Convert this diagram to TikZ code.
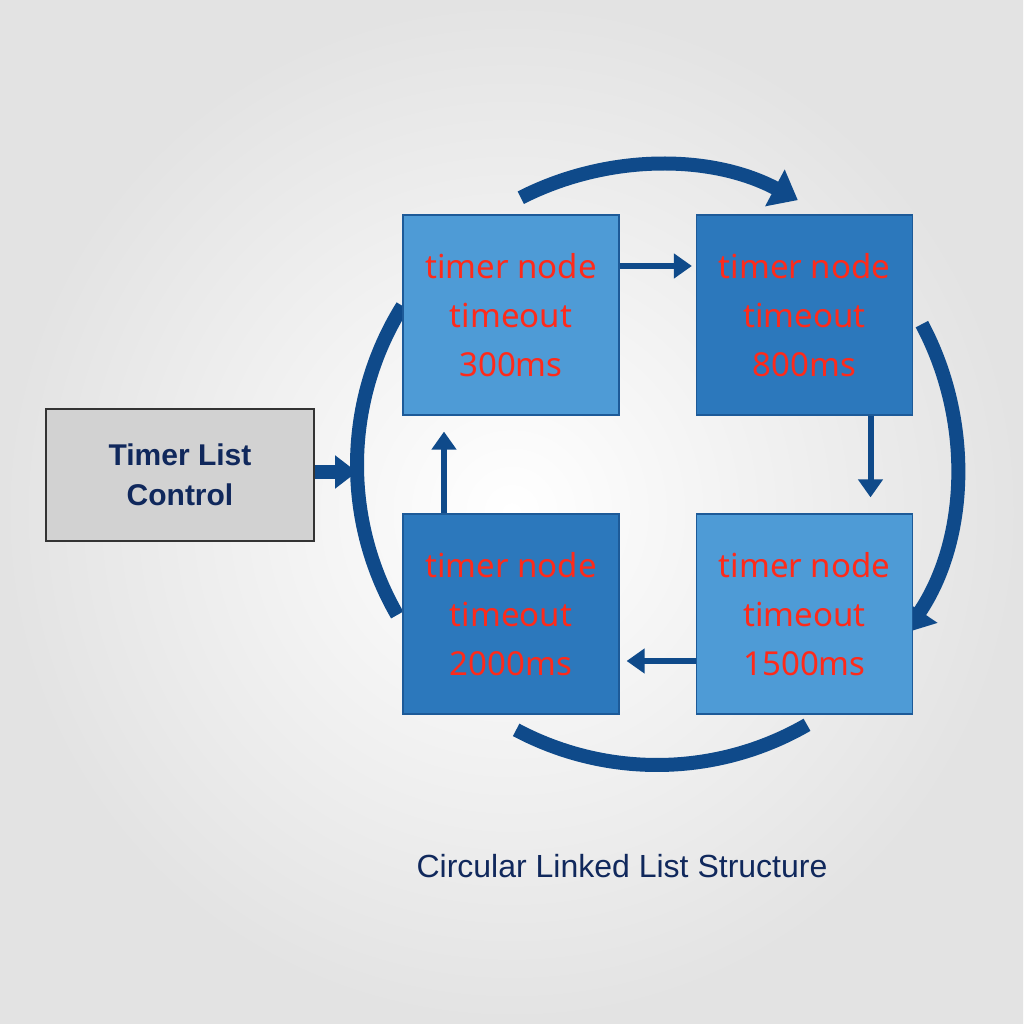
\documentclass[tikz,border=0pt]{standalone}
\usepackage{fontspec}
\setmainfont{Noto Sans}
\newfontfamily\lib{Liberation Sans}
\usetikzlibrary{arrows.meta}
\definecolor{navy}{HTML}{0F4A8A}
\definecolor{lightb}{HTML}{4E9BD6}
\definecolor{darkb}{HTML}{2C78BC}
\definecolor{bord}{HTML}{1D5A98}
\definecolor{txtred}{HTML}{FF2A1A}
\definecolor{ctlnavy}{HTML}{10285C}
\begin{document}
\begin{tikzpicture}[x=1pt,y=1pt,
  tn/.style={draw=bord,line width=1.2pt,minimum width=216pt,minimum height=200pt,inner sep=0pt,
    text=txtred,font=\fontsize{33}{49}\selectfont,align=center},
  link/.style={draw=navy,line width=6pt,-{Triangle[length=18pt,width=24pt]}},
  ring/.style={draw=navy,line width=14pt}]
\shade[inner color=white,outer color=gray!22] (0,0) rectangle (1023,1024);
\useasboundingbox (0,0) rectangle (1023,1024);
% ring
\coordinate (O) at (657,559);
\draw[ring,-{Triangle[length=26pt,width=40pt]}] (O) ++(117:300) arc[start angle=117,end angle=62,radius=300];
\draw[ring,-{Triangle[length=26pt,width=40pt]}] (O) ++(28:300) arc[start angle=28,end angle=-34,radius=300];
\draw[ring] (O) ++(-60:300) arc[start angle=-60,end angle=-118,radius=300];
\draw[ring] (O) ++(-150:300) arc[start angle=-150,end angle=-212,radius=300];
% nodes
\node[tn,fill=lightb] (A) at (511,709) {timer node\\timeout\\300ms};
\node[tn,fill=darkb] (B) at (804.5,709) {timer node\\timeout\\800ms};
\node[tn,fill=lightb] (C) at (804.5,410) {timer node\\timeout\\1500ms};
\node[tn,fill=darkb] (D) at (511,410) {timer node\\timeout\\2000ms};
\node[draw=black!80,line width=1.2pt,fill=gray!35,minimum width=268pt,minimum height=132pt,
  font=\lib\bfseries\fontsize{30}{40}\selectfont,text=ctlnavy,align=center] (T) at (180,549) {Timer List\\Control};
\coordinate (hit) at (357,552);
\draw[draw=navy,line width=14pt,-{Triangle[length=22pt,width=32pt]}] (T.east|-hit) -- (hit);
% links
\draw[link] ([yshift=49pt]A.east) -- ([yshift=49pt,xshift=-4pt]B.west);
\draw[link] ([xshift=66pt]B.south) -- ([xshift=66pt,yshift=16pt]C.north);
\draw[link] ([yshift=-47pt]C.west) -- ([yshift=-47pt,xshift=7pt]D.east);
\draw[link] ([xshift=-67pt]D.north) -- ([xshift=-67pt,yshift=-16pt]A.south);
\node[font=\lib\fontsize{32}{38}\selectfont,text=ctlnavy] (cap) at (622,158) {Circular Linked List Structure};
\end{tikzpicture}
\end{document}
